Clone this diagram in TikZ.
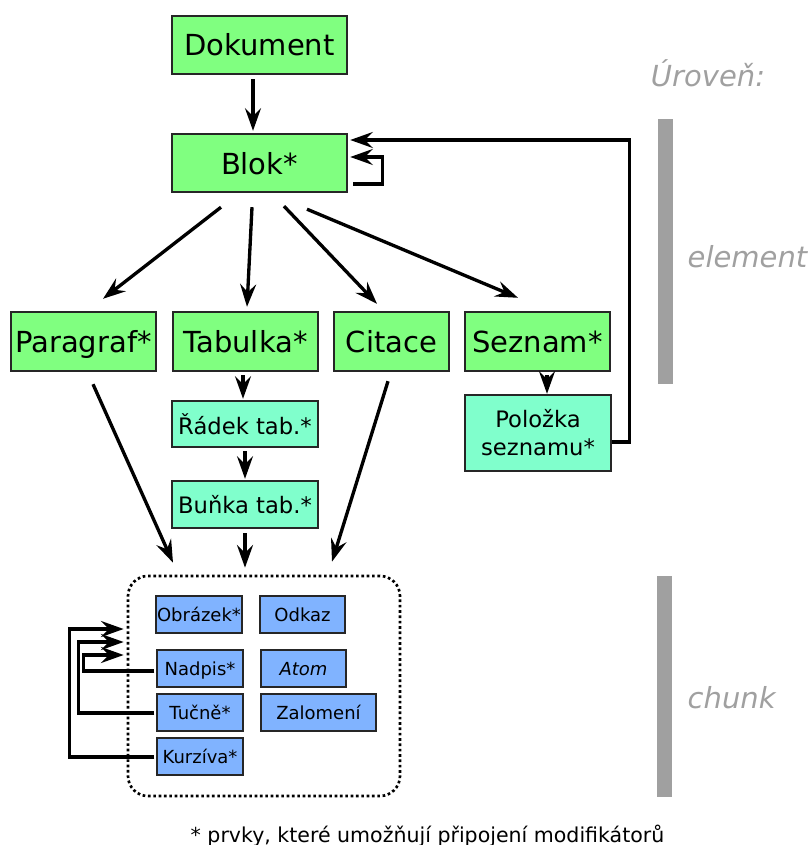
\documentclass[tikz,border=0pt]{standalone}
\usepackage{fontspec}
\setmainfont{DejaVu Sans}
\usetikzlibrary{arrows.meta,calc}
\definecolor{gbox}{HTML}{80FF80}
\definecolor{cbox}{HTML}{80FFCC}
\definecolor{bbox}{HTML}{80B3FF}
\definecolor{lvl}{HTML}{A0A0A0}
\tikzset{
  base/.style={draw=black!85, line width=1.8pt, inner sep=0pt, align=center},
  gnode/.style={base, fill=gbox, font=\fontsize{21.75}{26}\selectfont, text height=16.5pt, text depth=0pt},
  cnode/.style={base, fill=cbox, font=\fontsize{17}{21}\selectfont},
  bnode/.style={base, fill=bbox, line width=1.1pt, font=\fontsize{13.5}{16}\selectfont, text height=10.3pt, text depth=0pt},
  wh/.style 2 args={minimum width=#1*0.75pt, minimum height=#2*0.75pt},
  arr/.style={line width=2.5pt, -{Stealth[length=17pt,width=12pt,inset=6pt]}},
  lvltext/.style={text=lvl, font=\fontsize{21.75}{26}\selectfont\itshape},
  lvlbar/.style={fill=lvl, draw=none},
}
\begin{document}
\begin{tikzpicture}[x=0.75pt,y=-0.75pt]
\useasboundingbox (0,0) rectangle (809,845);

% level bars and labels
\fill[lvlbar] (658,119) rectangle (673,384);
\fill[lvlbar] (657,576) rectangle (672,797);
\node[lvltext] (lvlhead) at (708,73) {Úroveň:};
\node[lvltext, anchor=west] (lvlel) at (683,257) {element};
\node[lvltext, anchor=west] (lvlch) at (683,698) {chunk};

% element level
\node[gnode, wh={175}{58}] (dok) at (259.5,45) {Dokument};
\node[gnode, wh={175}{58}] (blok) at (259.5,163) {Blok*};
\node[gnode, wh={145}{59}] (par) at (83.5,341.5) {Paragraf*};
\node[gnode, wh={145}{59}] (tab) at (245.5,341.5) {Tabulka*};
\node[gnode, wh={115}{59}] (cit) at (391.5,341.5) {Citace};
\node[gnode, wh={145}{59}] (sez) at (537.5,341.5) {Seznam*};
\node[cnode, wh={146}{46}] (rad) at (245,424) {Řádek tab.*};
\node[cnode, wh={146}{47}] (bun) at (245,504.5) {Buňka tab.*};
\node[cnode, wh={146}{76}] (pol) at (538,433) {Položka\\seznamu*};

% chunk level
\node[draw, dotted, line width=2pt, rounded corners=15pt, wh={272}{220}, inner sep=0pt] (chunk) at (264,686) {};
\node[bnode, wh={86}{37}] (obr) at (199,614.5) {Obrázek*};
\node[bnode, wh={85}{37}] (odk) at (302.5,614.5) {Odkaz};
\node[bnode, wh={86}{37}] (nad) at (200,668.5) {Nadpis*};
\node[bnode, wh={85}{37}] (atom) at (303.5,668.5) {\itshape Atom};
\node[bnode, wh={86}{37}] (tuc) at (200,712.5) {Tučně*};
\node[bnode, wh={115}{37}] (zal) at (318.5,712.5) {Zalomení};
\node[bnode, wh={86}{37}] (kur) at (200,756.5) {Kurzíva*};

% connectors
\draw[arr] ($(dok.south)+(-6.5,4)$) -- ($(blok.north)+(-6.5,-2)$);
\draw[arr] ($(blok.south)+(-38.5,14)$) -- ($(par.north)+(19.5,-12)$);
\draw[arr] ($(blok.south)+(-7.5,14)$) -- ($(tab.north)+(1.5,-4)$);
\draw[arr] ($(blok.south)+(24.5,13)$) -- ($(cit.north)+(-14.5,-7)$);
\draw[arr] ($(blok.south)+(47.5,16)$) -- ($(sez.north)+(-19.5,-13)$);
\draw[arr] ($(blok.east)+(5,21)$) -- ++(29,0) |- ($(blok.east)+(2,-6)$);
\draw[arr] ($(pol.east)+(0,9)$) -- ++(17,0) |- ($(blok.east)+(2,-23)$);

\draw[arr] ($(tab.south)+(-2.5,3)$) -- ($(rad.north)+(-2,-1)$);
\draw[arr] ($(rad.south)+(0,3)$) -- ($(bun.north)+(0,-1)$);
\draw[arr] ($(sez.south)+(9.5,3)$) -- ($(pol.north)+(9,0)$);

\draw[arr] ($(bun.south)+(0,4)$) -- ($(chunk.north)+(-19,-7)$);
\draw[arr] ($(par.south)+(9.5,12)$) -- ($(chunk.north)+(-91,-12)$);
\draw[arr] ($(cit.south)+(-3.5,9)$) -- ($(chunk.north)+(68,-13)$);

\draw[arr] ($(nad.west)+(-2,2.5)$) -- ++(-71,0) |- ($(chunk.west)+(-3,-31)$);
\draw[arr] ($(tuc.west)+(-2,0.5)$) -- ++(-76,0) |- ($(chunk.west)+(-3,-44)$);
\draw[arr] ($(kur.west)+(-2,0.5)$) -- ++(-85,0) |- ($(chunk.west)+(-3,-57)$);

% footer
\node[anchor=base, font=\fontsize{15.4}{18}\selectfont] (foot) at (427.5,842) {* prvky, které umožňují připojení modifikátorů};
\end{tikzpicture}
\end{document}
